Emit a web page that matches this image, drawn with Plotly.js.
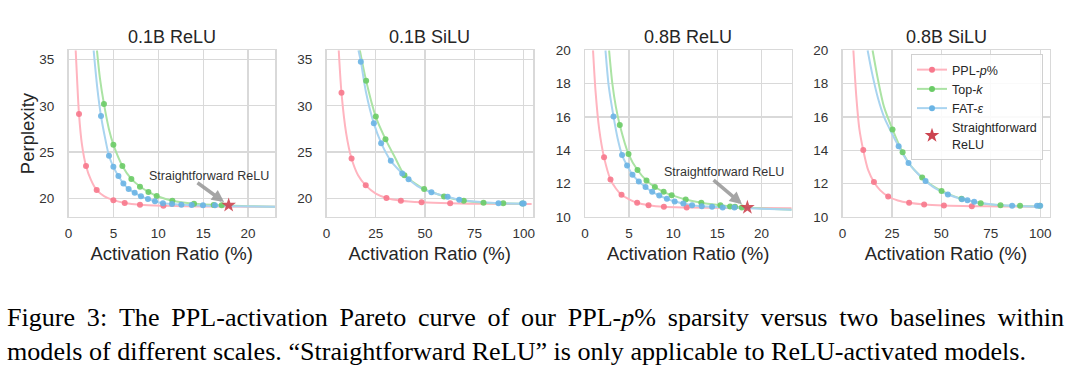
<!DOCTYPE html>
<html>
<head>
<meta charset="utf-8">
<script src="https://cdn.plot.ly/plotly-3.0.1.min.js"></script>
<style>html,body{margin:0;padding:0;background:#fff;}#chart{width:1080px;height:369px;}</style>
</head>
<body>
<div id="chart"></div>
<script>
// ---------- Data ----------
const panelTitles = ["0.1B ReLU", "0.1B SiLU", "0.8B ReLU", "0.8B SiLU"];
const seriesNames = ["PPL-<i>p</i>%", "Top-<i>k</i>", "FAT-<i>ε</i>"];
const starName = "Straightforward<br>ReLU";
const annotationText = "Straightforward ReLU";
const xTitle = "Activation Ratio (%)";
const yTitle = "Perplexity";
const captionWords1 = ["Figure", "3:", "The", "PPL-activation", "Pareto", "curve", "of", "our", "PPL-<i>p</i>%", "sparsity", "versus", "two", "baselines", "within"];
const captionLine2 = "models of different scales. “Straightforward ReLU” is only applicable to ReLU-activated models.";

// Panel 1: 0.1B ReLU
const p1PplX = [1.17, 1.95, 3.14, 5.0, 6.26, 7.96, 10.57];
const p1PplY = [29.1, 23.5, 20.9, 19.8, 19.5, 19.3, 19.2];
const p1TopkX = [3.95, 5.0, 6.0, 7.0, 7.96, 8.9, 9.82, 11.57, 13.98, 16.17, 17.06];
const p1TopkY = [30.2, 25.8, 23.5, 22.1, 21.25, 20.68, 20.25, 19.74, 19.42, 19.28, 19.25];
const p1FatX = [3.62, 4.51, 5.0, 5.56, 6.11, 6.7, 7.37, 8.07, 8.85, 9.63, 10.52, 11.53, 12.57, 13.72, 14.98, 16.31];
const p1FatY = [28.9, 24.6, 23.4, 22.4, 21.6, 21.0, 20.6, 20.22, 19.92, 19.68, 19.46, 19.39, 19.31, 19.28, 19.25, 19.25];
const p1StarX = [17.84];
const p1StarY = [19.25];
const p1PplCurveX = [0.8, 0.95, 1.17, 1.5, 1.95, 2.5, 3.14, 4.0, 5.0, 6.26, 8.0, 10.57, 15, 23];
const p1PplCurveY = [36, 33, 29.1, 25.8, 23.5, 22.0, 20.9, 20.2, 19.8, 19.5, 19.3, 19.2, 19.12, 19.08];
const p1TopkCurveX = [3.17, 3.5, 3.95, 4.5, 5.0, 6.0, 7.0, 8.0, 9.0, 10.0, 11.57, 14.0, 17.0, 20.0, 23.0];
const p1TopkCurveY = [36, 33, 30.2, 27.5, 25.8, 23.5, 22.1, 21.25, 20.65, 20.2, 19.74, 19.42, 19.25, 19.15, 19.1];
const p1FatCurveX = [2.8, 3.2, 3.62, 4.1, 4.51, 5.0, 5.56, 6.11, 6.7, 7.37, 8.07, 8.85, 9.63, 10.52, 12.57, 15, 18, 23];
const p1FatCurveY = [36, 32, 28.9, 26.4, 24.6, 23.4, 22.4, 21.6, 21.0, 20.6, 20.2, 19.92, 19.68, 19.46, 19.31, 19.2, 19.15, 19.1];

// Panel 2: 0.1B SiLU
const p2PplX = [7.6, 12.7, 19.9, 30.4, 37.7, 48.2, 62.7];
const p2PplY = [31.4, 24.3, 21.4, 20.03, 19.74, 19.57, 19.46];
const p2TopkX = [20.1, 25.0, 29.9, 39.5, 49.5, 59.6, 69.6, 79.6, 89.6, 99.4];
const p2TopkY = [32.7, 28.84, 26.39, 22.48, 21.0, 20.2, 19.74, 19.53, 19.46, 19.43];
const p2FatX = [17.4, 24.0, 27.7, 32.6, 38.4, 41.6, 53.2, 61.4, 67.3, 87.2, 99.2, 100];
const p2FatY = [34.76, 28.1, 25.96, 24.05, 22.69, 22.05, 20.65, 20.17, 19.85, 19.46, 19.43, 19.43];
const p2PplCurveX = [6.2, 7.6, 10, 12.7, 16, 19.9, 25, 30.4, 37.7, 48.2, 62.7, 80, 104];
const p2PplCurveY = [36, 31.4, 27, 24.3, 22.5, 21.4, 20.5, 20.03, 19.74, 19.57, 19.46, 19.4, 19.38];
const p2TopkCurveX = [16.9, 20.1, 25, 29.9, 35, 39.5, 45, 49.5, 55, 59.6, 69.6, 79.6, 89.6, 100];
const p2TopkCurveY = [36, 32.7, 28.8, 26.4, 24.3, 22.5, 21.6, 21.0, 20.55, 20.2, 19.74, 19.53, 19.46, 19.42];
const p2FatCurveX = [16.2, 17.4, 20, 24, 27.7, 32.6, 38.4, 41.6, 47, 53.2, 61.4, 67.3, 75, 87.2, 100];
const p2FatCurveY = [36, 34.8, 31.5, 28.1, 26.0, 24.05, 22.69, 22.05, 21.2, 20.65, 20.17, 19.85, 19.65, 19.46, 19.42];

// Panel 3: 0.8B ReLU
const p3PplX = [2.16, 2.89, 4.14, 5.91, 7.2, 8.94, 11.52];
const p3PplY = [13.57, 12.24, 11.32, 10.84, 10.7, 10.6, 10.56];
const p3TopkX = [3.94, 4.93, 5.95, 6.97, 7.92, 8.91, 9.82, 11.41, 13.18, 15.34, 16.44, 17.0, 17.77];
const p3TopkY = [15.51, 13.77, 12.81, 12.18, 11.79, 11.5, 11.3, 11.04, 10.84, 10.7, 10.62, 10.6, 10.56];
const p3FatX = [3.23, 4.2, 4.77, 5.38, 6.1, 6.86, 7.61, 8.41, 9.28, 10.16, 11.14, 12.13, 13.23, 14.4, 15.6, 16.93];
const p3FatY = [16.03, 13.71, 13.08, 12.53, 12.12, 11.79, 11.5, 11.28, 11.08, 10.92, 10.8, 10.7, 10.64, 10.6, 10.56, 10.56];
const p3StarX = [18.4];
const p3StarY = [10.56];
const p3PplCurveX = [0.91, 1.2, 1.6, 2.16, 2.89, 3.5, 4.14, 5.0, 5.91, 7.2, 8.94, 11.52, 16, 23.5];
const p3PplCurveY = [20, 17.5, 15.3, 13.57, 12.24, 11.7, 11.32, 11.05, 10.84, 10.7, 10.6, 10.56, 10.53, 10.52];
const p3TopkCurveX = [2.73, 3.1, 3.5, 3.94, 4.93, 5.95, 6.97, 7.92, 8.91, 9.82, 11.41, 13.18, 15.34, 17.77, 20, 23.5];
const p3TopkCurveY = [20, 18, 16.6, 15.51, 13.77, 12.81, 12.18, 11.79, 11.5, 11.3, 11.04, 10.84, 10.7, 10.57, 10.5, 10.42];
const p3FatCurveX = [2.32, 2.7, 3.23, 3.7, 4.2, 4.77, 5.38, 6.1, 6.86, 7.61, 8.41, 9.28, 10.16, 11.14, 12.13, 13.23, 14.4, 16.93, 20, 23.5];
const p3FatCurveY = [20, 17.8, 16.03, 14.7, 13.71, 13.08, 12.53, 12.12, 11.79, 11.5, 11.28, 11.08, 10.92, 10.8, 10.7, 10.64, 10.6, 10.54, 10.48, 10.42];

// Panel 4: 0.8B SiLU
const p4PplX = [10.5, 15.9, 23.1, 33.7, 41.3, 51.3, 65.4];
const p4PplY = [14.01, 12.09, 11.22, 10.84, 10.74, 10.68, 10.64];
const p4TopkX = [25.3, 30.4, 40.3, 50.1, 60.2, 69.9, 79.9, 89.8, 99.7];
const p4TopkY = [15.25, 13.87, 12.36, 11.55, 11.08, 10.82, 10.7, 10.66, 10.66];
const p4FatX = [28.4, 33.4, 42.0, 53.3, 60.4, 63.2, 66.6, 85.8, 98.4, 100];
const p4FatY = [14.23, 13.23, 12.15, 11.34, 11.06, 11.0, 10.9, 10.66, 10.66, 10.66];
const p4PplCurveX = [5.5, 7, 8.5, 10.5, 13, 15.9, 19, 23.1, 28, 33.7, 41.3, 51.3, 65.4, 80, 100];
const p4PplCurveY = [20, 17.2, 15.3, 14.0, 12.8, 12.09, 11.6, 11.22, 10.98, 10.84, 10.74, 10.68, 10.64, 10.62, 10.6];
const p4TopkCurveX = [15.2, 18, 21, 25.3, 30.4, 35, 40.3, 45, 50.1, 55, 60.2, 69.9, 79.9, 89.8, 100];
const p4TopkCurveY = [20, 18.2, 16.6, 15.25, 13.87, 13.0, 12.36, 11.9, 11.55, 11.3, 11.08, 10.82, 10.7, 10.65, 10.62];
const p4FatCurveX = [12.7, 15, 18, 21, 25, 28.4, 33.4, 38, 42, 47, 53.3, 60.4, 66.6, 75, 85.8, 100];
const p4FatCurveY = [20, 18.6, 17.1, 16.0, 15.0, 14.23, 13.23, 12.6, 12.15, 11.7, 11.34, 11.06, 10.9, 10.75, 10.66, 10.62];

// Arrow annotations (text position, arrow tail, arrow head) per ReLU panel
const p1LabelXY = [15.6, 22.4];
const p1ArrowTail = [14.2, 21.8];
const p1ArrowHead = [17.6, 19.4];
const p3LabelXY = [15.7, 12.72];
const p3ArrowTail = [14.4, 12.28];
const p3ArrowHead = [18.05, 10.64];

// ---------- Styling ----------
const markerColors = ["#f7788c", "#6acb66", "#6ab4e4"];
const lineColors = ["#ffb4bf", "#abe3a4", "#a9d4f0"];
const starColor = "#cc4450";
const gridColor = "#d9d9d9";
const textColor = "#262626";
const FONT = "'Liberation Sans', Arial, Helvetica, sans-serif";
const SERIF = "'Liberation Serif', 'Times New Roman', 'DejaVu Serif', serif";
const W = 1080, H = 369;

// plot-area pixel boxes
const xPx = [[68.5, 275], [326.5, 533], [585, 791.5], [842.5, 1049.5]];
const yPx = [50.3, 216.8];
const xRanges = [[0, 23.0], [0, 104.7], [0, 23.4], [0, 104.7]];
const yRanges = [[18, 36], [18, 36], [10, 20], [10, 20]];
const xDticks = [5, 25, 5, 25];
const yDticks = [5, 5, 2, 2];

const panels = [
  {ppl: [p1PplX, p1PplY], topk: [p1TopkX, p1TopkY], fat: [p1FatX, p1FatY],
   curves: [[p1PplCurveX, p1PplCurveY], [p1TopkCurveX, p1TopkCurveY], [p1FatCurveX, p1FatCurveY]],
   star: [p1StarX, p1StarY]},
  {ppl: [p2PplX, p2PplY], topk: [p2TopkX, p2TopkY], fat: [p2FatX, p2FatY],
   curves: [[p2PplCurveX, p2PplCurveY], [p2TopkCurveX, p2TopkCurveY], [p2FatCurveX, p2FatCurveY]],
   star: null},
  {ppl: [p3PplX, p3PplY], topk: [p3TopkX, p3TopkY], fat: [p3FatX, p3FatY],
   curves: [[p3PplCurveX, p3PplCurveY], [p3TopkCurveX, p3TopkCurveY], [p3FatCurveX, p3FatCurveY]],
   star: [p3StarX, p3StarY]},
  {ppl: [p4PplX, p4PplY], topk: [p4TopkX, p4TopkY], fat: [p4FatX, p4FatY],
   curves: [[p4PplCurveX, p4PplCurveY], [p4TopkCurveX, p4TopkCurveY], [p4FatCurveX, p4FatCurveY]],
   star: null}
];

const traces = [];
panels.forEach((p, i) => {
  const xa = i === 0 ? "x" : "x" + (i + 1);
  const ya = i === 0 ? "y" : "y" + (i + 1);
  p.curves.forEach((c, s) => {
    traces.push({x: c[0], y: c[1], xaxis: xa, yaxis: ya, mode: "lines", type: "scatter",
      line: {color: lineColors[s], width: 2, shape: "spline", smoothing: 0.8},
      showlegend: false, hoverinfo: "skip", cliponaxis: true});
  });
  [p.ppl, p.topk, p.fat].forEach((pts, s) => {
    traces.push({x: pts[0], y: pts[1], xaxis: xa, yaxis: ya, mode: "markers", type: "scatter",
      name: seriesNames[s], marker: {color: markerColors[s], size: 6, opacity: 0.9},
      showlegend: false, cliponaxis: true});
  });
  if (p.star) {
    traces.push({x: p.star[0], y: p.star[1], xaxis: xa, yaxis: ya, mode: "markers", type: "scatter",
      name: starName, marker: {color: starColor, size: 11, symbol: "star", opacity: 0.9},
      showlegend: false, cliponaxis: false});
  }
});
// legend entries (shown in the 0.8B SiLU panel)
seriesNames.forEach((n, s) => {
  traces.push({x: [null], y: [null], xaxis: "x4", yaxis: "y4", mode: "lines+markers", type: "scatter",
    name: n, line: {color: lineColors[s], width: 2}, marker: {color: markerColors[s], size: 6},
    showlegend: true});
});
traces.push({x: [null], y: [null], xaxis: "x4", yaxis: "y4", mode: "markers", type: "scatter",
  name: starName, marker: {color: starColor, size: 11, symbol: "star"}, showlegend: true});

const layout = {
  width: W, height: H,
  margin: {l: 0, r: 0, t: 0, b: 0},
  paper_bgcolor: "#ffffff", plot_bgcolor: "#ffffff",
  font: {family: FONT, color: textColor},
  showlegend: true,
  legend: {
    x: 911 / W, y: 1 - 54 / H, xanchor: "left", yanchor: "top",
    bgcolor: "rgba(255,255,255,0.85)", bordercolor: "#d0d0d0", borderwidth: 1,
    font: {family: FONT, size: 12.5, color: textColor},
    tracegroupgap: 0, itemwidth: 30
  },
  annotations: [],
};

for (let i = 0; i < 4; i++) {
  const sfx = i === 0 ? "" : String(i + 1);
  layout["xaxis" + sfx] = {
    domain: [xPx[i][0] / W, xPx[i][1] / W],
    anchor: "y" + sfx, range: xRanges[i], dtick: xDticks[i], tick0: 0,
    showgrid: true, gridcolor: gridColor, gridwidth: 1.3,
    zeroline: false, showline: true, linecolor: gridColor, linewidth: 1.5, mirror: true,
    ticks: "", ticklabelstandoff: 3,
    tickfont: {family: FONT, size: 13.5, color: "#333"},
    title: {text: xTitle, font: {family: FONT, size: 18.5, color: textColor}, standoff: 7}
  };
  const yax = {
    domain: [1 - yPx[1] / H, 1 - yPx[0] / H],
    anchor: "x" + sfx, range: yRanges[i], dtick: yDticks[i], tick0: 0,
    showgrid: true, gridcolor: gridColor, gridwidth: 1.3,
    zeroline: false, showline: true, linecolor: gridColor, linewidth: 1.5, mirror: true,
    ticks: "", ticklabelstandoff: 10,
    tickfont: {family: FONT, size: 13.5, color: "#333"}
  };
  if (i === 0) yax.title = {text: yTitle, font: {family: FONT, size: 18.5, color: textColor}, standoff: 0};
  layout["yaxis" + sfx] = yax;

  layout.annotations.push({
    text: panelTitles[i], xref: "paper", yref: "paper",
    x: (xPx[i][0] + xPx[i][1]) / 2 / W, y: 1 - 37 / H, xanchor: "center", yanchor: "middle",
    showarrow: false, font: {family: FONT, size: 18, color: textColor}
  });
}

// "Straightforward ReLU" labels with arrows
[[p1LabelXY, p1ArrowTail, p1ArrowHead, "x", "y"], [p3LabelXY, p3ArrowTail, p3ArrowHead, "x3", "y3"]].forEach(a => {
  layout.annotations.push({
    text: annotationText, xref: a[3], yref: a[4], x: a[0][0], y: a[0][1],
    xanchor: "center", yanchor: "middle", showarrow: false,
    font: {family: FONT, size: 12.5, color: "#333"}
  });
  layout.annotations.push({
    text: "", xref: a[3], yref: a[4], x: a[2][0], y: a[2][1],
    axref: a[3], ayref: a[4], ax: a[1][0], ay: a[1][1],
    showarrow: true, arrowhead: 2, arrowsize: 0.7, arrowwidth: 3.5,
    arrowcolor: "rgba(150,150,150,0.85)", standoff: 3
  });
});

// caption: one two-line text block; first line spread out (justified) with thin spaces
const captionLine1 = captionWords1.join(" \u2009");
layout.annotations.push({
  text: captionLine1 + "<br>" + captionLine2, xref: "paper", yref: "paper", x: 5 / W, y: 1 - 334 / H,
  xanchor: "left", yanchor: "middle", align: "left", showarrow: false,
  font: {family: SERIF, size: 26.1, color: "#000"}
});

Plotly.newPlot("chart", traces, layout, {staticPlot: true, displayModeBar: false});
</script>
</body>
</html>
